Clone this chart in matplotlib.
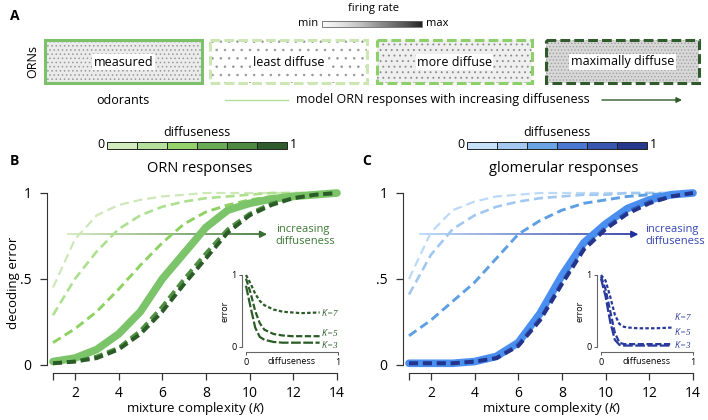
import numpy as np
import matplotlib
matplotlib.use("Agg")
import matplotlib.pyplot as plt
from matplotlib.collections import LineCollection
from matplotlib.colors import LinearSegmentedColormap
from matplotlib.patches import Rectangle

plt.rcParams['font.family'] = ['Open Sans', 'DejaVu Sans']
plt.rcParams['mathtext.fontset'] = 'custom'
plt.rcParams['mathtext.it'] = 'Open Sans:italic'
plt.rcParams['mathtext.rm'] = 'Open Sans'
plt.rcParams['lines.scale_dashes'] = False
plt.rcParams['hatch.linewidth'] = 0.6

# ---- data ----
K = list(range(1, 15))

# panel B: ORN responses (diffuseness low -> high, "measured" is the solid one)
orn_d0 = [0.45, 0.73, 0.87, 0.93, 0.96, 0.98, 0.99, 1.0, 1.0, 1.0, 1.0, 1.0, 1.0, 1.0]
orn_d1 = [0.29, 0.50, 0.66, 0.79, 0.87, 0.92, 0.95, 0.97, 0.98, 0.99, 1.0, 1.0, 1.0, 1.0]
orn_d2 = [0.13, 0.21, 0.31, 0.44, 0.58, 0.71, 0.82, 0.89, 0.93, 0.96, 0.98, 0.99, 1.0, 1.0]
orn_meas = [0.02, 0.04, 0.09, 0.18, 0.31, 0.50, 0.65, 0.80, 0.90, 0.94, 0.965, 0.98, 0.99, 1.0]
orn_d4 = [0.01, 0.02, 0.05, 0.10, 0.20, 0.34, 0.50, 0.65, 0.79, 0.88, 0.94, 0.97, 0.99, 1.0]
orn_d5 = [0.01, 0.02, 0.04, 0.09, 0.18, 0.31, 0.47, 0.62, 0.77, 0.87, 0.93, 0.97, 0.99, 1.0]

# panel C: glomerular responses
glom_d0 = [0.50, 0.77, 0.90, 0.95, 0.98, 0.99, 1.0, 1.0, 1.0, 1.0, 1.0, 1.0, 1.0, 1.0]
glom_d1 = [0.41, 0.64, 0.79, 0.87, 0.92, 0.95, 0.97, 0.98, 0.99, 0.99, 1.0, 1.0, 1.0, 1.0]
glom_d2 = [0.17, 0.26, 0.37, 0.48, 0.62, 0.76, 0.84, 0.90, 0.94, 0.96, 0.98, 0.99, 1.0, 1.0]
glom_meas = [0.01, 0.01, 0.01, 0.02, 0.05, 0.13, 0.30, 0.52, 0.71, 0.82, 0.91, 0.96, 0.99, 1.0]
glom_d4 = [0.01, 0.01, 0.01, 0.02, 0.04, 0.12, 0.27, 0.48, 0.68, 0.80, 0.89, 0.95, 0.98, 1.0]
glom_d5 = [0.01, 0.01, 0.01, 0.02, 0.04, 0.11, 0.26, 0.47, 0.67, 0.79, 0.88, 0.94, 0.98, 1.0]

# insets: error vs diffuseness for K = 7, 5, 3
ins_x_b = [0, 0.05, 0.1, 0.15, 0.2, 0.3, 0.4, 0.5, 0.6, 0.8]
ins_b_k7 = [1.0, 0.88, 0.74, 0.64, 0.58, 0.52, 0.49, 0.48, 0.47, 0.48]
ins_b_k5 = [0.95, 0.75, 0.50, 0.33, 0.24, 0.18, 0.16, 0.15, 0.15, 0.15]
ins_b_k3 = [0.85, 0.55, 0.27, 0.14, 0.10, 0.07, 0.06, 0.06, 0.06, 0.06]

ins_x_c = [0, 0.05, 0.1, 0.15, 0.2, 0.25, 0.3, 0.4, 0.6, 0.77]
ins_c_k7 = [1.0, 0.92, 0.70, 0.45, 0.32, 0.28, 0.27, 0.26, 0.26, 0.27]
ins_c_k5 = [0.98, 0.80, 0.50, 0.20, 0.06, 0.04, 0.04, 0.04, 0.04, 0.04]
ins_c_k3 = [0.95, 0.70, 0.35, 0.10, 0.03, 0.02, 0.02, 0.02, 0.02, 0.02]

box_labels = ["measured", "least diffuse", "more diffuse", "maximally diffuse"]

# colours
greens = ['#cfe8b9', '#ade08f', '#8fd264', '#7cc46a', '#4f8f42', '#2b5b27']
blues = ['#bcdaf7', '#a2c8f1', '#5f9fe3', '#4a8ff0', '#3465c6', '#24348a']
green_bar = ['#d3ebbf', '#b5e09b', '#93d36a', '#6aaa55', '#4d8943', '#2e5c2a']
blue_bar = ['#c6e0f8', '#a4c8f0', '#6aa4e4', '#4a78d0', '#3756b0', '#253a8c']

W, H = 708, 420
fig = plt.figure(figsize=(W / 100, H / 100), dpi=100)

# overlay in pixel coordinates for panel A, colour bars and labels
ov = fig.add_axes([0, 0, 1, 1])
ov.axis('off')

ov.text(10, 16, 'A', fontsize=10, fontweight='bold', va='center')
ov.text(374, 9, 'firing rate', ha='center', va='center', fontsize=8)
ov.imshow(np.linspace(0, 1, 120).reshape(1, -1), cmap='Greys', vmin=-0.05, vmax=1.15,
          extent=(322, 422, 27, 21), aspect='auto')
ov.add_patch(Rectangle((322, 21), 100, 6, fill=False, ec='#666', lw=0.6))
ov.text(318, 24, 'min', ha='right', va='center', fontsize=8)
ov.text(426, 24, 'max', ha='left', va='center', fontsize=8)

# heat-map boxes (texture only suggested with hatching)
box_x = [45, 210, 377, 546]
box_w = [157, 157, 155, 153]
box_fc = ['#ebebeb', '#ffffff', '#efefef', '#d8d8d8']
box_hc = ['#9a9a9a', '#9a9a9a', '#8a8a8a', '#a0a0a0']
box_hatch = ['....', '..', '...', '.....']
box_ec = ['#7cc16a', '#cce6b4', '#8dcf6a', '#2f5b2a']
box_ls = ['-', (0, (7, 3)), (0, (7, 3)), (0, (7, 3))]
for i in range(4):
    ov.add_patch(Rectangle((box_x[i], 40), box_w[i], 43, fc=box_fc[i], ec=box_hc[i],
                           hatch=box_hatch[i], lw=0))
    ov.add_patch(Rectangle((box_x[i], 40), box_w[i], 43, fill=False, ec=box_ec[i],
                           lw=2.2, ls=box_ls[i]))
    ov.text(box_x[i] + box_w[i] / 2, 62, box_labels[i], ha='center', va='center', fontsize=9,
            bbox=dict(fc='white', ec='none', pad=1.0))

ov.text(33, 62, 'ORNs', rotation=90, ha='center', va='center', fontsize=9)
ov.text(123, 100, 'odorants', ha='center', va='center', fontsize=9)
ov.text(443, 100, 'model ORN responses with increasing diffuseness', ha='center',
        va='center', fontsize=9)
ov.plot([225, 288], [100, 100], color='#b5dd9c', lw=1)
ov.annotate('', xy=(682, 100), xytext=(602, 100),
            arrowprops=dict(arrowstyle='-|>', color='#2f5b2a', lw=1, mutation_scale=8,
                            shrinkA=0, shrinkB=0))

# diffuseness colour bars
for x0, cols in [(107, green_bar), (467, blue_bar)]:
    seg = 30
    for i, c in enumerate(cols):
        ov.add_patch(Rectangle((x0 + i * seg, 142), seg, 6.5, fc=c, ec='#222', lw=0.7))
    ov.text(x0 - 3, 145, '0', ha='right', va='center', fontsize=9)
    ov.text(x0 + 6 * seg + 3, 145, '1', ha='left', va='center', fontsize=9)
    ov.text(x0 + 3 * seg, 133, 'diffuseness', ha='center', va='center', fontsize=9)

ov.text(10, 161, 'B', fontsize=10, fontweight='bold', va='center')
ov.text(362, 161, 'C', fontsize=10, fontweight='bold', va='center')
ov.text(200, 168, 'ORN responses', ha='center', va='center', fontsize=10.5)
ov.text(564, 168, 'glomerular responses', ha='center', va='center', fontsize=10.5)

ov.set_xlim(0, W)
ov.set_ylim(H, 0)


def style_axes(ax, left_off, bottom_off, spine_col='#333'):
    for s in ['top', 'right']:
        ax.spines[s].set_visible(False)
    ax.spines['left'].set_position(('outward', left_off))
    ax.spines['bottom'].set_position(('outward', bottom_off))
    ax.spines['left'].set_color(spine_col)
    ax.spines['bottom'].set_color(spine_col)
    ax.patch.set_alpha(0)


def gradient_arrow(ax, x0, x1, y, c0, c1):
    xs = np.linspace(x0, x1 - 0.3, 60)
    segs = [[(xs[i], y), (xs[i + 1], y)] for i in range(len(xs) - 1)]
    cmap = LinearSegmentedColormap.from_list('arr', [c0, c1])
    ax.add_collection(LineCollection(segs, colors=cmap(np.linspace(0, 1, len(segs))),
                                     linewidths=1.2, zorder=1))
    ax.annotate('', xy=(x1, y), xytext=(x1 - 0.35, y),
                arrowprops=dict(arrowstyle='-|>', color=c1, lw=1.2, mutation_scale=10,
                                shrinkA=0, shrinkB=0))


def main_panel(left, series, cols, arrow, text_x, text_col, ylabel):
    ax = fig.add_axes([left / W, 55 / H, 284 / W, 172 / H])
    style_axes(ax, 4.5, 5.8)
    widths = [1.6, 1.9, 2.1, 5.5, 2.6, 2.8]
    for i in range(6):
        if i == 3:
            ax.plot(K, series[i], color=cols[i], lw=widths[i], solid_capstyle='round',
                    solid_joinstyle='round', clip_on=False, zorder=2)
        else:
            ax.plot(K, series[i], color=cols[i], lw=widths[i], ls=(0, (6.5, 3.5)),
                    clip_on=False, zorder=3 if i > 3 else 2)
    gradient_arrow(ax, arrow[0], arrow[1], 0.76, arrow[2], arrow[3])
    ax.text(text_x, 0.755, 'increasing\ndiffuseness', ha='left', va='center', fontsize=8,
            color=text_col, linespacing=1.15)
    ax.set_xlim(1, 14)
    ax.set_ylim(0, 1)
    ax.spines['bottom'].set_bounds(1, 14)
    ax.spines['left'].set_bounds(0, 1)
    ax.set_xticks([1, 2, 4, 6, 8, 10, 12, 14])
    ax.set_xticklabels(['', '2', '4', '6', '8', '10', '12', '14'])
    ax.set_yticks([0, 0.5, 1])
    ax.set_yticklabels(['0', '.5', '1'])
    ax.tick_params(direction='out', length=5, width=0.9, labelsize=10, color='#333')
    ax.tick_params(axis='x', pad=4)
    ax.tick_params(axis='y', pad=6)
    ax.set_xlabel('mixture complexity ($K$)', fontsize=9.5)
    ax.xaxis.set_label_coords(0.5, -0.205)
    if ylabel:
        ax.set_ylabel('decoding error', fontsize=9.5)
        ax.yaxis.set_label_coords(-0.115, 0.48)
    return ax


def inset_panel(left, xs, k7, k5, k3, col, label_ys):
    ax = fig.add_axes([left / W, 73 / H, 92 / W, 72 / H])
    style_axes(ax, 3, 3.6, spine_col='#666')
    ax.plot(xs, k7, color=col, lw=1.6, ls=(0, (2.5, 1.6)), clip_on=False)
    ax.plot(xs, k5, color=col, lw=1.6, ls=(0, (4.5, 1.8)), clip_on=False)
    ax.plot(xs, k3, color=col, lw=1.6, ls=(0, (7, 1.8)), clip_on=False)
    for lab, yy in zip(['$K$=7', '$K$=5', '$K$=3'], label_ys):
        ax.text(xs[-1] + 0.02, yy, lab, fontsize=6.5, color=col, va='center', ha='left',
                family=['Liberation Serif'], style='italic')
    ax.set_xlim(0, 1)
    ax.set_ylim(0, 1)
    ax.set_xticks([0, 1])
    ax.set_yticks([0, 1])
    ax.tick_params(direction='out', length=2.5, width=0.7, labelsize=6.5, pad=1.5,
                   color='#555')
    ax.text(0.5, -0.135, 'diffuseness', transform=ax.transAxes, ha='center', va='top',
            fontsize=6.5)
    ax.set_ylabel('error', fontsize=6.5, labelpad=1)
    return ax


main_panel(53, [orn_d0, orn_d1, orn_d2, orn_meas, orn_d4, orn_d5], greens,
           (1.64, 10.8, '#cfe8b9', '#3a6e32'), 11.2, '#3d7a35', True)
main_panel(409, [glom_d0, glom_d1, glom_d2, glom_meas, glom_d4, glom_d5], blues,
           (1.46, 11.5, '#b3d5f7', '#1f2fa0'), 11.8, '#3545b5', False)

inset_panel(246, ins_x_b, ins_b_k7, ins_b_k5, ins_b_k3, '#2b5b27', [0.48, 0.2, 0.04])
inset_panel(601, ins_x_c, ins_c_k7, ins_c_k5, ins_c_k3, '#2a3a9c', [0.42, 0.22, 0.04])

fig.savefig('out.png', dpi=100)
